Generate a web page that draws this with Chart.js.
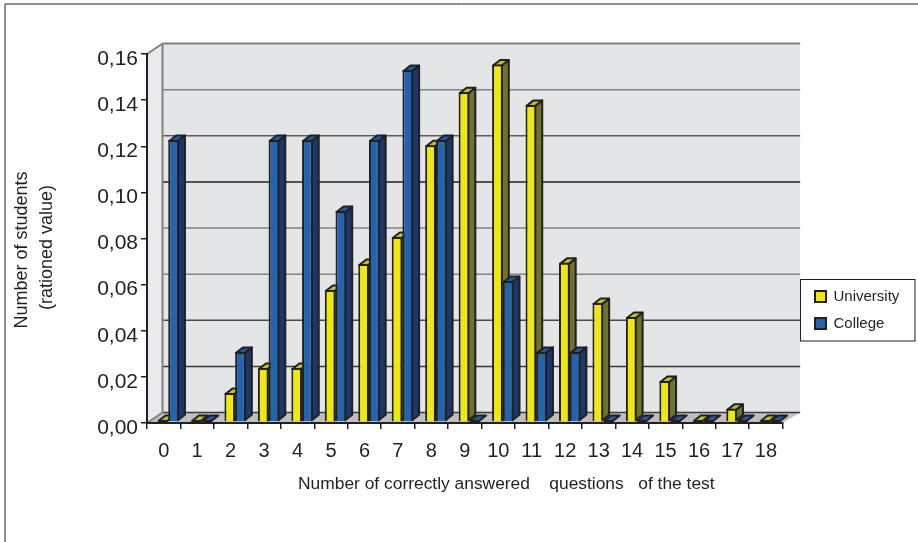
<!DOCTYPE html>
<html>
<head>
<meta charset="utf-8">
<script src="https://cdn.jsdelivr.net/npm/chart.js@4"></script>
<style>
body { margin:0; background:#fff; }
canvas { display:block; }
</style>
</head>
<body>
<canvas id="myChart" width="918" height="542"></canvas>
<script>
var categories = ["0","1","2","3","4","5","6","7","8","9","10","11","12","13","14","15","16","17","18"];
var university = [0,0,0.0126,0.0234,0.0234,0.0572,0.0685,0.0802,0.120,0.143,0.155,0.1375,0.069,0.0516,0.0455,0.0178,0,0.0057,0];
var college = [0.1223,0,0.0304,0.1223,0.1223,0.0915,0.1223,0.1526,0.1223,0,0.0611,0.0304,0.0304,0,0,0,0,0,0];
var yTickLabels = ["0,00","0,02","0,04","0,06","0,08","0,10","0,12","0,14","0,16"];
var gridColors = ["#3a3a3a","#3a3a3a","#4a4a4a","#808285","#808285","#231f20","#5a5a5a","#808285","#808285"];

var ink = "#231f20";
/* depth of the walls and of the bars */
var wallX = 15.5, wallY = 10.5;
var barX = 7, barY = 5.5;
/* bars stand a bit inside the floor */
var shiftX = 4.5, shiftY = -1;

function poly(ctx, pts, fill, stroke, lw) {
    ctx.beginPath();
    ctx.moveTo(pts[0][0], pts[0][1]);
    for (var i = 1; i < pts.length; i++) ctx.lineTo(pts[i][0], pts[i][1]);
    ctx.closePath();
    if (fill) { ctx.fillStyle = fill; ctx.fill(); }
    if (stroke) { ctx.strokeStyle = stroke; ctx.lineWidth = lw; ctx.lineJoin = "round"; ctx.stroke(); }
}

function line(ctx, x1, y1, x2, y2, color, lw) {
    ctx.beginPath();
    ctx.moveTo(x1, y1);
    ctx.lineTo(x2, y2);
    ctx.strokeStyle = color;
    ctx.lineWidth = lw;
    ctx.stroke();
}

var walls3d = {
    id: "walls3d",
    beforeDraw: function (chart) {
        var ctx = chart.ctx, a = chart.chartArea, y = chart.scales.y;
        var l = a.left, r = a.right, t = a.top, b = a.bottom;
        ctx.save();
        // page frame
        line(ctx, 5, 4, 918, 4, ink, 1);
        line(ctx, 5, 4, 5, 542, ink, 1);
        // side wall, back wall, floor
        poly(ctx, [[l,t],[l+wallX,t-wallY],[l+wallX,b-wallY],[l,b]], "#e9eaeb");
        ctx.fillStyle = "#e4e5e7";
        ctx.fillRect(l+wallX, t-wallY, r-l+2, b-t);
        poly(ctx, [[l,b],[l+wallX,b-wallY],[r+17.5,b-wallY],[r,b]], "#bec0bf");
        // gridlines sit on the back wall
        y.ticks.forEach(function (tick, i) {
            var py = y.getPixelForValue(tick.value) - wallY;
            line(ctx, l+wallX, py, r+17.5, py, gridColors[i], i == 8 ? 2 : 1.5);
        });
        line(ctx, l, t, l+wallX, t-wallY, "#808285", 2);
        line(ctx, l+wallX, t-wallY, l+wallX, b-wallY, "#808285", 2);
        line(ctx, l, b, l+wallX, b-wallY, "#808285", 2);
        // y labels sit lower than their ticks in the original
        y.getLabelItems().forEach(function (item) { item.textOffset += 5; });
        // legend box
        ctx.fillStyle = "#fff";
        ctx.fillRect(800, 279, 115, 62);
        ctx.strokeStyle = ink;
        ctx.lineWidth = 1;
        ctx.strokeRect(800.5, 279.5, 114.5, 61.5);
        // axis titles
        ctx.fillStyle = ink;
        ctx.font = "17.4px 'Liberation Sans'";
        ctx.textAlign = "left";
        ctx.textBaseline = "middle";
        ctx.fillText("Number of correctly answered    questions   of the test", 298, 484);
        ctx.textAlign = "center";
        ctx.font = "18px 'Liberation Sans'";
        ctx.translate(22, 250);
        ctx.rotate(-Math.PI / 2);
        ctx.fillText("Number of students", 0, 0);
        ctx.fillText("(rationed value)", 2.5, 25);
        ctx.restore();
    },
    afterLayout: function (chart) {
        // legend goes inside its box, bottom stays roomy or the items wrap
        var lg = chart.legend;
        lg.left = 803; lg.right = 915;
        lg.top = 259; lg.bottom = 361;
    },
    beforeDatasetsDraw: function (chart) {
        var ctx = chart.ctx;
        ctx.save();
        ctx.translate(shiftX, shiftY);
        chart.data.datasets.forEach(function (ds, i) {
            chart.getDatasetMeta(i).data.forEach(function (bar) {
                var l = bar.x - bar.width / 2 + 1, r = bar.x + bar.width / 2 - 1;
                var t = bar.y + 1, b = bar.base - 1;
                if (b > t) poly(ctx, [[r,t],[r+barX,t-barY],[r+barX,b-barY],[r,b]], ds.sideColor, ink, 2);
                else t = b;
                poly(ctx, [[l,t],[r,t],[r+barX,t-barY],[l+barX,t-barY]], ds.topColor, ink, 2);
            });
        });
        // fronts are drawn by the bar elements, same shift
    },
    afterDatasetsDraw: function (chart) {
        chart.ctx.restore();
    }
};

var ctx = document.getElementById("myChart").getContext("2d");
var myChart = new Chart(ctx, {
    type: "bar",
    plugins: [walls3d],
    data: {
        labels: categories,
        datasets: [
            { label: "University", data: university, backgroundColor: "#eee80f", borderColor: ink, borderWidth: 2,
              sideColor: "#6f7330", topColor: "#bcc02c", clip: false },
            { label: "College", data: college, backgroundColor: "#2264b0", borderColor: ink, borderWidth: 2,
              sideColor: "#1d3768", topColor: "#1f5ca6", clip: false }
        ]
    },
    options: {
        responsive: false,
        animation: false,
        devicePixelRatio: 1,
        layout: { padding: { top: 54, right: 29, left: 0, bottom: 0 } },
        datasets: { bar: { barPercentage: 1, categoryPercentage: 0.64 } },
        plugins: {
            tooltip: { enabled: false },
            legend: {
                position: "right",
                labels: { boxWidth: 11, boxHeight: 11, padding: 12, color: ink,
                          font: { family: "'Liberation Sans'", size: 15 } }
            }
        },
        scales: {
            x: {
                afterFit: function (s) { s.height = 119; },
                grid: { drawOnChartArea: false, color: ink, tickLength: 6, lineWidth: 1.5 },
                border: { color: ink, width: 2 },
                ticks: { color: ink, padding: 10, maxRotation: 0, autoSkip: false,
                         font: { family: "'Liberation Sans'", size: 20 } }
            },
            y: {
                min: 0,
                max: 0.16,
                afterFit: function (s) { s.width = 147; },
                grid: { drawOnChartArea: false, color: ink, tickLength: 6, lineWidth: 1.5 },
                border: { color: ink, width: 2 },
                ticks: { stepSize: 0.02, color: ink, padding: 3,
                         font: { family: "'Liberation Sans'", size: 21 },
                         callback: function (v, i) { return yTickLabels[i]; } }
            }
        }
    }
});
</script>
</body>
</html>
